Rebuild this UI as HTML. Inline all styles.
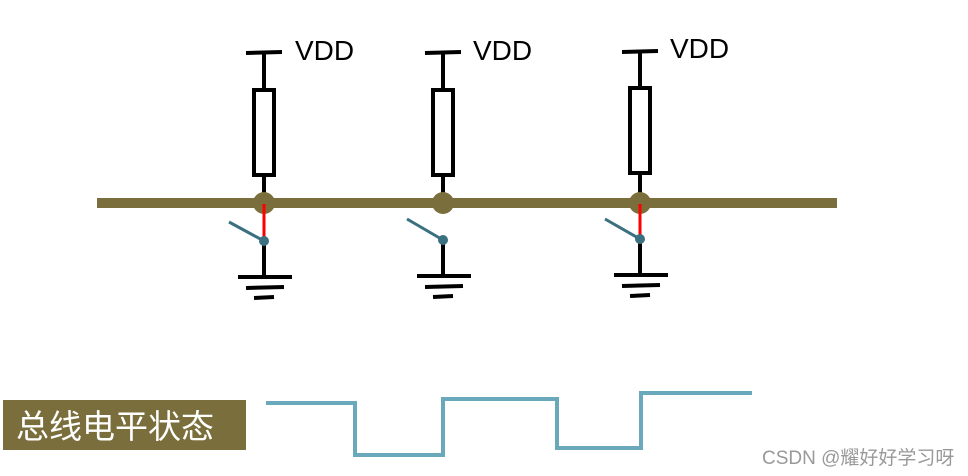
<!DOCTYPE html>
<html><head><meta charset="utf-8"><style>
html,body{margin:0;padding:0;background:#fff;width:968px;height:476px;overflow:hidden}
</style></head><body>
<svg width="968" height="476" viewBox="0 0 968 476" xmlns="http://www.w3.org/2000/svg">
<g stroke="#000" stroke-width="4" fill="none">
  <line x1="246" y1="53" x2="282" y2="52"/><line x1="264" y1="53" x2="264" y2="90"/>
  <rect x="254" y="90" width="20" height="85" fill="#fff"/><line x1="264" y1="175" x2="264" y2="203"/>
  <line x1="264" y1="241" x2="264" y2="277"/>
  <line x1="238" y1="277" x2="292" y2="277"/><line x1="246" y1="288" x2="284" y2="287"/><line x1="254" y1="298" x2="274" y2="297"/>
  <line x1="425" y1="53" x2="461" y2="52"/><line x1="443" y1="53" x2="443" y2="90"/>
  <rect x="433" y="90" width="20" height="85" fill="#fff"/><line x1="443" y1="175" x2="443" y2="203"/>
  <line x1="443" y1="240" x2="443" y2="276"/>
  <line x1="417" y1="276" x2="471" y2="276"/><line x1="425" y1="287" x2="463" y2="286"/><line x1="433" y1="297" x2="453" y2="296"/>
  <line x1="622" y1="52" x2="658" y2="51"/><line x1="640" y1="52" x2="640" y2="88"/>
  <rect x="630" y="88" width="20" height="85" fill="#fff"/><line x1="640" y1="173" x2="640" y2="203"/>
  <line x1="640" y1="239" x2="640" y2="275"/>
  <line x1="614" y1="275" x2="668" y2="275"/><line x1="622" y1="286" x2="660" y2="285"/><line x1="630" y1="296" x2="650" y2="295"/>
</g>
<line x1="97" y1="203" x2="837" y2="203" stroke="#7a6f3c" stroke-width="10"/>
<circle cx="264" cy="203" r="11" fill="#7a6f3c"/>
<circle cx="443" cy="203" r="11" fill="#7a6f3c"/>
<circle cx="640" cy="203" r="11" fill="#7a6f3c"/>
<line x1="264" y1="204" x2="264" y2="241" stroke="#f00" stroke-width="3"/>
<line x1="640" y1="204" x2="640" y2="239" stroke="#f00" stroke-width="3"/>
<g stroke="#3a7080" stroke-width="3">
  <line x1="229" y1="222" x2="264" y2="241"/>
  <line x1="407" y1="219" x2="443" y2="240"/>
  <line x1="605" y1="219" x2="640" y2="239"/>
</g>
<g fill="#3a7080">
  <circle cx="264" cy="241" r="5"/><circle cx="443" cy="240" r="5"/><circle cx="640" cy="239" r="5"/>
</g>
<g font-family="Liberation Sans, sans-serif" font-size="28" fill="#000">
  <text x="295" y="60">VDD</text><text x="473" y="60">VDD</text><text x="670" y="58">VDD</text>
</g>
<rect x="3" y="400" width="243" height="50" fill="#7a6f3c"/>
<text x="16" y="438" font-family="Liberation Sans, 'Noto Sans CJK SC', sans-serif" font-size="33" fill="#fff">总线电平状态</text>
<polyline points="266,403 355,403 355,455 443,455 443,399 557,399 557,448 641,448 641,393 752,393" fill="none" stroke="#6aa8bb" stroke-width="4"/>
<text x="762" y="464" font-family="Liberation Sans, 'Noto Sans CJK SC', sans-serif" font-size="19" fill="#999">CSDN @耀好好学习呀</text>
</svg>
</body></html>
